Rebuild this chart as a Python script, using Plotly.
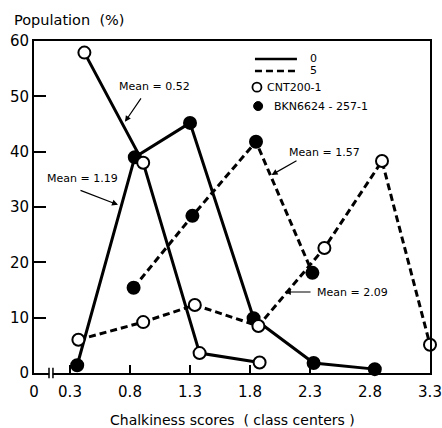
import plotly.graph_objects as go

# ---- data ----
score_bkn_0 = [0.36, 0.84, 1.30, 1.83, 2.33, 2.84]
pop_bkn_0 = [1.4, 39.0, 45.2, 9.9, 1.8, 0.7]

score_bkn_5 = [0.83, 1.32, 1.85, 2.32]
pop_bkn_5 = [15.4, 28.4, 41.8, 18.1]

score_cnt_0 = [0.42, 0.91, 1.38, 1.88]
pop_cnt_0 = [57.9, 38.0, 3.6, 1.9]

score_cnt_5 = [0.37, 0.91, 1.34, 1.87, 2.42, 2.90, 3.30]
pop_cnt_5 = [6.0, 9.2, 12.3, 8.5, 22.6, 38.3, 5.1]

x_tickvals = [0, 0.3, 0.8, 1.3, 1.8, 2.3, 2.8, 3.3]
x_ticktext = ["0", "0.3", "0.8", "1.3", "1.8", "2.3", "2.8", "3.3"]
y_tickvals = [0, 10, 20, 30, 40, 50, 60]

mean_labels = ["Mean = 0.52", "Mean = 1.19", "Mean = 1.57", "Mean = 2.09"]

FONT = "DejaVu Sans"
DASH = "7px,4px"
LW = 3

fig = go.Figure()

def add(xs, ys, dash, filled):
    fig.add_trace(go.Scatter(
        x=xs, y=ys, mode="lines+markers", cliponaxis=False,
        line=dict(color="black", width=LW, dash=dash),
        marker=dict(symbol="circle", size=12,
                    color="black" if filled else "white",
                    line=dict(color="black", width=2)),
        showlegend=False, hoverinfo="skip"))

add(score_bkn_0, pop_bkn_0, "solid", True)
add(score_bkn_5, pop_bkn_5, DASH, True)
add(score_cnt_0, pop_cnt_0, "solid", False)
add(score_cnt_5, pop_cnt_5, DASH, False)

annotations = []
# mean labels (text)
text_pos = [(0.69, 51.7), (0.092, 35.2), (2.108, 39.9), (2.342, 14.46)]
for (tx, ty), t in zip(text_pos, mean_labels):
    annotations.append(dict(x=tx, y=ty, xref="x", yref="y", text=t, showarrow=False,
                            xanchor="left", yanchor="middle",
                            font=dict(family=FONT, size=11, color="black")))
# arrows (tail -> head)
arrows = [((0.90, 49.9), (0.758, 45.4)),
          ((0.375, 33.1), (0.70, 30.4)),
          ((2.20, 38.5), (1.98, 35.8)),
          ((2.317, 14.64), (2.09, 14.64))]
for (tx, ty), (hx, hy) in arrows:
    annotations.append(dict(x=hx, y=hy, ax=tx, ay=ty, xref="x", yref="y",
                            axref="x", ayref="y", text="", showarrow=True,
                            arrowhead=2, arrowsize=1, arrowwidth=1.2,
                            arrowcolor="black", standoff=0, startstandoff=0))

# legend texts
leg_text = [("0", 0.692, 0.946), ("5", 0.692, 0.910),
            ("CNT200-1", 0.583, 0.861), ("BKN6624 - 257-1", 0.600, 0.804)]
for t, lx, ly in leg_text:
    annotations.append(dict(x=lx, y=ly, xref="paper", yref="paper", text=t,
                            showarrow=False, xanchor="left", yanchor="middle",
                            font=dict(family=FONT, size=11, color="black")))

# titles
annotations.append(dict(x=-0.0556, y=1.063, xref="paper", yref="paper",
                        text="Population  (%)", showarrow=False,
                        xanchor="left", yanchor="middle",
                        font=dict(family=FONT, size=14.5, color="black")))
annotations.append(dict(x=0.5, y=-0.1416, xref="paper", yref="paper",
                        text="Chalkiness scores  ( class centers )", showarrow=False,
                        xanchor="center", yanchor="middle",
                        font=dict(family=FONT, size=14, color="black")))

shapes = [
    # legend samples
    dict(type="line", xref="paper", yref="paper", x0=0.558, x1=0.664, y0=0.946, y1=0.946,
         line=dict(color="black", width=2.5)),
    dict(type="line", xref="paper", yref="paper", x0=0.558, x1=0.664, y0=0.910, y1=0.910,
         line=dict(color="black", width=2.5, dash=DASH)),
    dict(type="circle", xref="paper", yref="paper", xsizemode="pixel", ysizemode="pixel",
         xanchor=0.563, yanchor=0.861, x0=-4.5, x1=4.5, y0=-4.5, y1=4.5,
         line=dict(color="black", width=1.8), fillcolor="white"),
    dict(type="circle", xref="paper", yref="paper", xsizemode="pixel", ysizemode="pixel",
         xanchor=0.566, yanchor=0.804, x0=-4.5, x1=4.5, y0=-4.5, y1=4.5,
         line=dict(color="black", width=1), fillcolor="black"),
    # axis break on x axis
    dict(type="rect", xref="x", yref="paper", x0=0.127, x1=0.156, y0=-0.008, y1=0.008,
         line=dict(width=0), fillcolor="white", layer="above"),
    dict(type="line", xref="x", yref="paper", x0=0.125, x1=0.125, y0=-0.016, y1=0.016,
         line=dict(color="black", width=1.5)),
    dict(type="line", xref="x", yref="paper", x0=0.158, x1=0.158, y0=-0.016, y1=0.016,
         line=dict(color="black", width=1.5)),
]

fig.update_layout(
    width=442, height=428,
    margin=dict(l=34, r=12, t=41, b=55, autoexpand=False),
    paper_bgcolor="white", plot_bgcolor="white",
    font=dict(family=FONT, color="black"),
    annotations=annotations, shapes=shapes,
    showlegend=False,
)
fig.update_xaxes(range=[0, 3.3], tickvals=x_tickvals, ticktext=x_ticktext,
                 ticks="inside", ticklen=8, tickwidth=1.5, tickcolor="black",
                 showline=True, linecolor="black", linewidth=2, mirror=True,
                 showgrid=False, zeroline=False, ticklabelstandoff=4, automargin=False,
                 tickfont=dict(family=FONT, size=15, color="black"))
fig.update_yaxes(range=[0, 60], tickvals=y_tickvals, automargin=False,
                 ticks="inside", ticklen=12, tickwidth=1.5, tickcolor="black",
                 showline=True, linecolor="black", linewidth=2, mirror=True,
                 showgrid=False, zeroline=False,
                 tickfont=dict(family=FONT, size=15, color="black"))

fig.write_html("out.html", config={"displayModeBar": False},
               post_script="document.body.style.margin='0';document.body.style.overflow='hidden';")
